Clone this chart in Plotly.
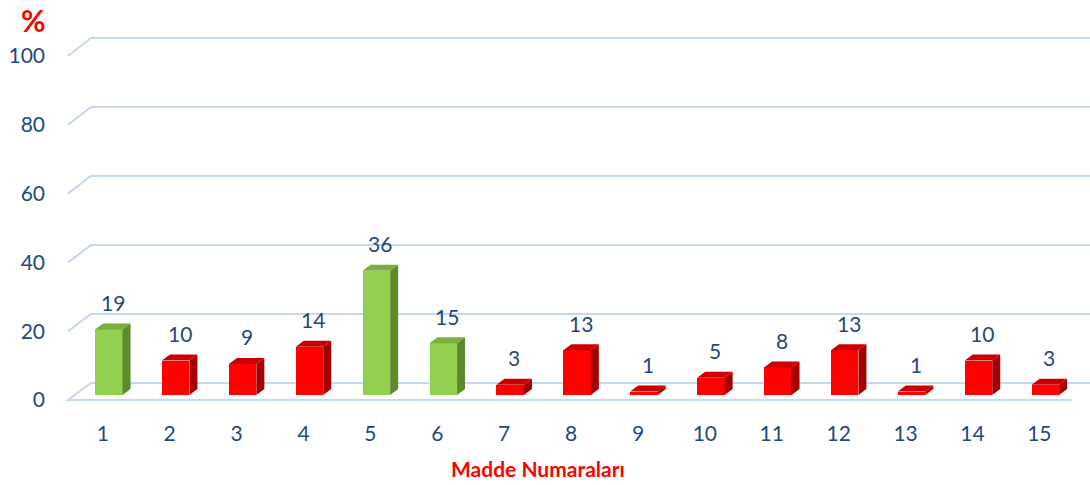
import plotly.graph_objects as go

# ---- data ----
items = list(range(1, 16))
values = [19, 10, 9, 14, 36, 15, 3, 13, 1, 5, 8, 13, 1, 10, 3]
is_green = [True, False, False, False, True, True, False, False, False, False, False, False, False, False, False]
y_ticks = [0, 20, 40, 60, 80, 100]

# ---- styling / geometry ----
FONT = "Lato"
TXT = "#1F497D"
GRID = "#C6D7EE"
GREEN = ("#92D050", "#7AAE3E", "#5E8A2E")   # front, top, side
RED = ("#FF0000", "#CC0000", "#A50000")
BAR_W = 0.411
DX = 0.1196   # depth offset in category units
DY = 1.739    # depth offset in value units
BACK_OFF = 3.478      # back-wall offset (value units)
FRONT_OFF = -1.449    # front-edge offset
FRONT_SCALE = 0.9971
X_FRONT_L, X_BACK_L, X_FRONT_R, X_BACK_R = 0.390, 0.734, 15.40, 15.80

fig = go.Figure()

# gridlines (back wall + left side) and floor edge, drawn below the bars
for t in y_ticks:
    yb = t + BACK_OFF
    yf = FRONT_OFF + FRONT_SCALE * t
    if t == 0:
        path = f"M{X_FRONT_R},{yf} L{X_FRONT_L},{yf} L{X_BACK_L},{yb} L{X_BACK_R},{yb}"
    else:
        path = f"M{X_FRONT_L},{yf} L{X_BACK_L},{yb} L{X_BACK_R},{yb}"
    fig.add_shape(type="path", path=path, xref="x", yref="y", layer="below",
                  line=dict(color=GRID, width=2))

# bars: front faces
front_cols = [GREEN[0] if g else RED[0] for g in is_green]
fig.add_trace(go.Bar(x=items, y=values, width=BAR_W, base=0,
                     marker=dict(color=front_cols, line=dict(width=0)),
                     showlegend=False, hoverinfo="skip"))

# bars: top and side faces
for c, v, g in zip(items, values, is_green):
    pal = GREEN if g else RED
    l, r = c - BAR_W / 2, c + BAR_W / 2
    fig.add_trace(go.Scatter(
        x=[l, r, r + DX, l + DX, l], y=[v, v, v + DY, v + DY, v],
        fill="toself", fillcolor=pal[1], mode="lines",
        line=dict(width=0, color=pal[1]), hoverinfo="skip", showlegend=False))
    fig.add_trace(go.Scatter(
        x=[r, r + DX, r + DX, r, r], y=[0, DY, v + DY, v, 0],
        fill="toself", fillcolor=pal[2], mode="lines",
        line=dict(width=0, color=pal[2]), hoverinfo="skip", showlegend=False))

# value labels
for c, v in zip(items, values):
    fig.add_annotation(x=c + DX / 2, y=v + DY, text=str(v), showarrow=False,
                       yanchor="middle", yshift=21,
                       font=dict(family=FONT, size=21, color=TXT))

# dummy trace for front-scale y axis (labels)
fig.add_trace(go.Scatter(x=[items[0]], y=[0], yaxis="y2", mode="markers",
                         marker=dict(opacity=0), hoverinfo="skip", showlegend=False))

fig.add_annotation(xref="paper", yref="paper", x=-0.0262, y=1.0,
                   xanchor="center", yanchor="middle",
                   text="<b>%</b>", showarrow=False,
                   font=dict(family=FONT, size=30, color="#FF0000"))
fig.add_annotation(xref="paper", yref="paper", x=0.464, y=-0.1367,
                   xanchor="center", yanchor="middle",
                   text="<b>Madde Numaraları</b>", showarrow=False,
                   font=dict(family=FONT, size=21, color="#FF0000"))

fig.update_layout(
    width=1090, height=485,
    margin=dict(l=60, r=0, t=20, b=70, autoexpand=False),
    paper_bgcolor="white", plot_bgcolor="white",
    bargap=0,
    xaxis=dict(range=[0.2706, 15.667], tickmode="array", tickvals=items,
               ticktext=[str(i) for i in items], showgrid=False, zeroline=False,
               showline=False, ticks="", ticklabelshift=-6, ticklabelstandoff=4,
               automargin=False,
               tickfont=dict(family=FONT, size=21, color=TXT)),
    yaxis=dict(range=[-5.797, 108.70], showgrid=False, zeroline=False,
               showticklabels=False, showline=False, automargin=False),
    yaxis2=dict(range=[-4.360, 110.465], overlaying="y", side="left",
                tickmode="array", tickvals=y_ticks, showgrid=False, zeroline=False,
                showline=False, ticks="", ticklabelstandoff=14, automargin=False,
                tickfont=dict(family=FONT, size=21, color=TXT)),
)

fig.write_html("out.html", config={"displayModeBar": False},
               post_script="document.body.style.margin='0';document.body.style.overflow='hidden';")
